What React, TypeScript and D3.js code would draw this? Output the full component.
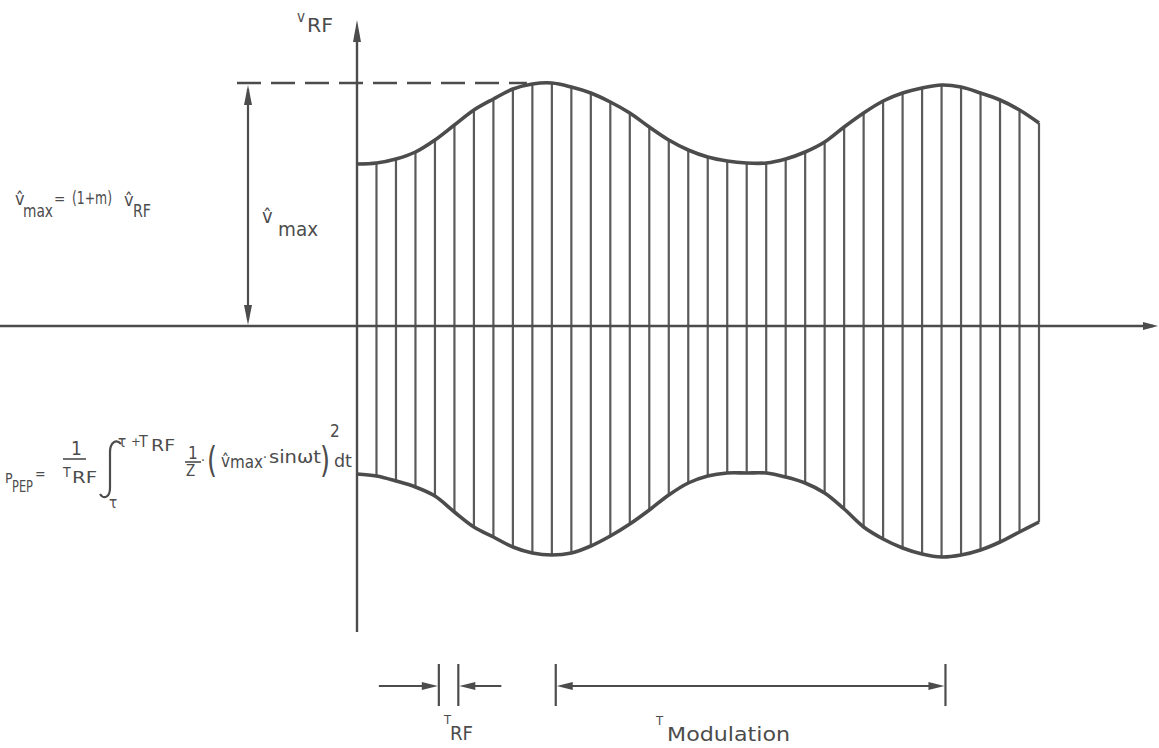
import React, { useEffect } from "react";
import * as d3 from "d3";

const W = 1159;
const H = 748;

// envelope amplitude read at every carrier cycle (t = 0 is the y axis), in units of 100 px
const upperEnvelope = [
  1.62, 1.63, 1.67, 1.74, 1.86, 2.01, 2.16, 2.27, 2.37, 2.42, 2.43, 2.39, 2.33, 2.24, 2.13, 1.99, 1.86, 1.76,
  1.69, 1.65, 1.63, 1.63, 1.67, 1.74, 1.84, 1.99, 2.13, 2.25, 2.33, 2.38, 2.41, 2.39, 2.33, 2.26, 2.16, 2.03,
];
const lowerEnvelope = [
  1.48, 1.5, 1.55, 1.61, 1.7, 1.86, 2.01, 2.11, 2.21, 2.27, 2.29, 2.27, 2.2, 2.1, 1.98, 1.84, 1.69, 1.57,
  1.5, 1.47, 1.47, 1.47, 1.51, 1.57, 1.67, 1.83, 2.01, 2.13, 2.22, 2.28, 2.31, 2.29, 2.24, 2.16, 2.06, 1.96,
];

// period markers under the plot, in carrier cycles
const periodMarks = [
  { name: "RF", from: 4.2, to: 5.2, inward: true },
  { name: "Modulation", from: 10.2, to: 30.2, inward: false },
];

const ink = "#4c4c4c";
const font = "'DejaVu Sans Condensed', 'Liberation Sans Narrow', 'DejaVu Sans', sans-serif";

function arrowHead(tx: number, ty: number, dir: "up" | "down" | "left" | "right", len = 14, hw = 4) {
  if (dir === "up") return `M${tx},${ty}L${tx - hw},${ty + len}L${tx + hw},${ty + len}Z`;
  if (dir === "down") return `M${tx},${ty}L${tx - hw},${ty - len}L${tx + hw},${ty - len}Z`;
  if (dir === "left") return `M${tx},${ty}L${tx + len},${ty - hw}L${tx + len},${ty + hw}Z`;
  return `M${tx},${ty}L${tx - len},${ty - hw}L${tx - len},${ty + hw}Z`;
}

function T(props: any) {
  const { children, size = 18, ...rest } = props;
  return (
    <text fontFamily={font} fontSize={size} fill={ink} lengthAdjust="spacingAndGlyphs" {...rest}>
      {children}
    </text>
  );
}

export default function App() {
  useEffect(() => {
    document.body.style.margin = "0";
  }, []);

  const n = upperEnvelope.length;
  const x = d3.scaleLinear().domain([0, n - 1]).range([357, 1039]);
  const y = d3.scaleLinear().domain([-3.06, 3.06]).range([632, 20]);
  const y0 = y(0);

  const env = d3
    .line<number>()
    .x((d, i) => x(i))
    .y((d) => d)
    .curve(d3.curveCatmullRom.alpha(0.5));
  const upperPath = env(upperEnvelope.map((v) => y(v))) || "";
  const lowerPath = env(lowerEnvelope.map((v) => y(-v))) || "";

  const maxV = d3.max(upperEnvelope) as number;
  const peak = y(maxV);
  const peakIdx = upperEnvelope.indexOf(maxV);
  const dimX = 248;
  const markY = 686;

  return (
    <svg width={W} height={H} style={{ display: "block", background: "#fff" }}>
      {/* carrier cycles */}
      <g stroke="#5a5a5a" strokeWidth={2.2}>
        {upperEnvelope.map((u, i) =>
          i === 0 ? null : <line key={i} x1={x(i)} x2={x(i)} y1={y(u)} y2={y(-lowerEnvelope[i])} />
        )}
      </g>

      {/* envelope */}
      <path d={upperPath} fill="none" stroke={ink} strokeWidth={3.6} />
      <path d={lowerPath} fill="none" stroke={ink} strokeWidth={3.6} />

      {/* axes */}
      <g stroke={ink} strokeWidth={2.4}>
        <line x1={0} x2={W - 6} y1={y0} y2={y0} />
        <line x1={x(0)} x2={x(0)} y1={632} y2={30} />
      </g>
      <path d={arrowHead(W - 1, y0, "right", 15, 4)} fill={ink} />
      <path d={arrowHead(x(0), 20, "up", 22, 4)} fill={ink} />

      {/* peak level and v_max dimension */}
      <line
        x1={237}
        x2={x(peakIdx) - 25}
        y1={peak}
        y2={peak}
        stroke={ink}
        strokeWidth={2.4}
        strokeDasharray="24,10"
      />
      <line x1={dimX} x2={dimX} y1={peak + 6} y2={y0 - 6} stroke={ink} strokeWidth={2.2} />
      <path d={arrowHead(dimX, peak + 2, "up", 20, 4)} fill={ink} />
      <path d={arrowHead(dimX, y0 - 1, "down", 20, 4)} fill={ink} />

      {/* period markers */}
      {periodMarks.map((m) => {
        const a = x(m.from);
        const b = x(m.to);
        return (
          <g key={m.name}>
            <g stroke={ink} strokeWidth={2.2}>
              <line x1={a} x2={a} y1={markY - 22} y2={markY + 20} />
              <line x1={b} x2={b} y1={markY - 22} y2={markY + 20} />
              {m.inward ? (
                <>
                  <line x1={a - 60} x2={a - 6} y1={markY} y2={markY} />
                  <line x1={b + 6} x2={b + 43} y1={markY} y2={markY} />
                </>
              ) : (
                <line x1={a + 6} x2={b - 6} y1={markY} y2={markY} />
              )}
            </g>
            {m.inward ? (
              <>
                <path d={arrowHead(a - 1, markY, "right", 16, 4)} fill={ink} />
                <path d={arrowHead(b + 1, markY, "left", 16, 4)} fill={ink} />
              </>
            ) : (
              <>
                <path d={arrowHead(a + 1, markY, "left", 16, 4)} fill={ink} />
                <path d={arrowHead(b - 1, markY, "right", 16, 4)} fill={ink} />
              </>
            )}
          </g>
        );
      })}
      <T x={444} y={724} size={13}>T</T>
      <T x={450} y={740} size={20} textLength={23}>RF</T>
      <T x={656} y={725} size={13}>T</T>
      <T x={667} y={741} size={20} textLength={123}>Modulation</T>

      {/* axis label */}
      <T x={297} y={22} size={15}>v</T>
      <T x={307} y={32} size={19} textLength={26}>RF</T>

      {/* v_max label */}
      <T x={262} y={223} size={20}>{"v\u0302"}</T>
      <T x={278} y={236} size={20} textLength={40}>max</T>

      {/* v_max = (1+m) v_RF */}
      <T x={15} y={205} size={18}>{"v\u0302"}</T>
      <T x={23} y={217} size={17} textLength={30}>max</T>
      <T x={54} y={204} size={15}>=</T>
      <T x={72} y={204} size={17} textLength={40}>(1+m)</T>
      <T x={124} y={206} size={18}>{"v\u0302"}</T>
      <T x={133} y={217} size={17} textLength={18}>RF</T>

      {/* P_PEP formula */}
      <T x={5} y={483} size={14}>P</T>
      <T x={12} y={492} size={15} textLength={21}>PEP</T>
      <T x={35} y={479} size={14}>=</T>
      <T x={71} y={455} size={19}>1</T>
      <line x1={63} x2={86} y1={459} y2={459} stroke={ink} strokeWidth={1.6} />
      <T x={63} y={477} size={14}>T</T>
      <T x={72} y={483} size={16} textLength={25}>RF</T>
      <path
        d="M121,444 C116,438 110,443 110,452 L110,488 C110,497 104,500 100,494"
        fill="none"
        stroke={ink}
        strokeWidth={2.2}
      />
      <T x={109} y={508} size={15}>τ</T>
      <T x={118} y={447} size={15}>τ</T>
      <T x={131} y={446} size={13}>+</T>
      <T x={139} y={447} size={16}>T</T>
      <T x={151} y={451} size={16} textLength={24}>RF</T>
      <T x={188} y={459} size={17}>1</T>
      <line x1={185} x2={201} y1={462} y2={462} stroke={ink} strokeWidth={1.6} />
      <T x={186} y={476} size={15}>Z</T>
      <T x={201} y={465} size={14}>·</T>
      <T x={207} y={472} size={36} textLength={10}>(</T>
      <T x={221} y={467} size={17}>{"v\u0302"}</T>
      <T x={230} y={468} size={17} textLength={33}>max</T>
      <T x={263} y={462} size={14}>·</T>
      <T x={269} y={463} size={18} textLength={52}>sinωt</T>
      <T x={320} y={472} size={36} textLength={10}>)</T>
      <T x={330} y={437} size={17}>2</T>
      <T x={334} y={467} size={17} textLength={18}>dt</T>
    </svg>
  );
}
